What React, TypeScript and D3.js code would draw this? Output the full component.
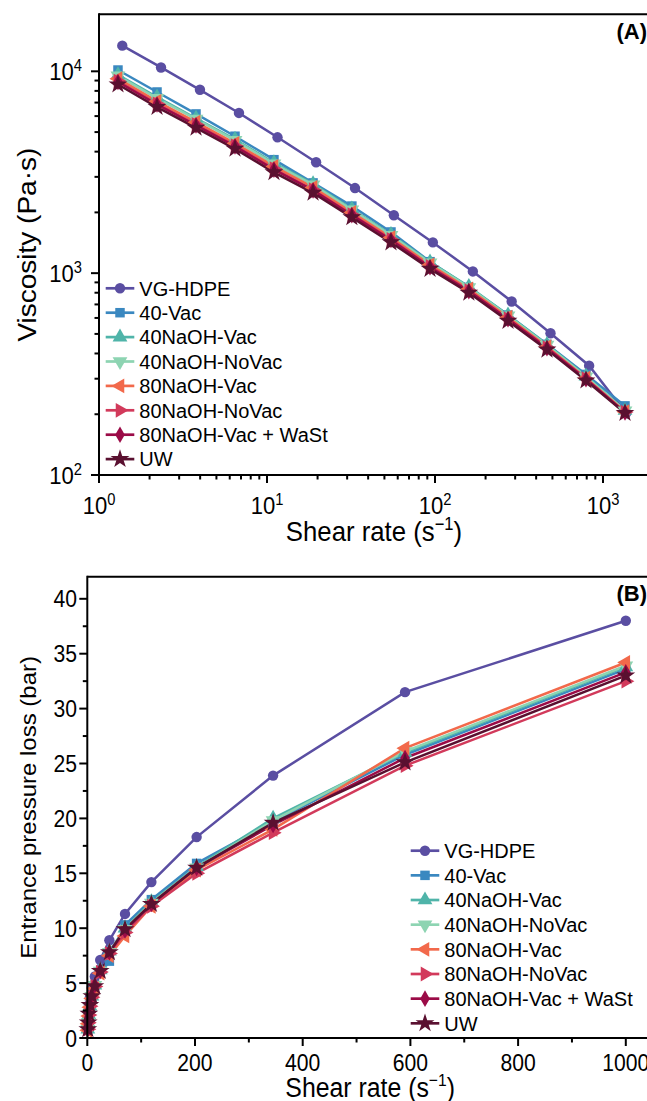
import React from 'react';
import * as d3 from 'd3';

const seriesNames = ['VG-HDPE', '40-Vac', '40NaOH-Vac', '40NaOH-NoVac', '80NaOH-Vac', '80NaOH-NoVac', '80NaOH-Vac + WaSt', 'UW'];
const seriesColors = ['#5a4ea2', '#3a88c0', '#4fb4a9', '#8dd4b2', '#f2694b', '#d23a5b', '#9b0b47', '#5a1030'];
const seriesMarkers = ['circle', 'square', 'triangle', 'triangleDown', 'triangleLeft', 'triangleRight', 'diamond', 'star'];

// Panel A: viscosity vs shear rate (log-log)
const shearA_VG = [1.376, 2.34, 3.99, 6.81, 11.55, 19.6, 33.4, 56.9, 97.1, 168, 286, 487, 827, 1372];
const shearA = [1.297, 2.215, 3.78, 6.45, 11.0, 18.8, 32.0, 54.7, 93.4, 159, 272, 464, 792, 1352];
const viscVG = [13400, 10450, 8100, 6220, 4710, 3545, 2640, 1935, 1420, 1020, 724, 504, 348, 202];
const visc40Vac = [10150, 7900, 6150, 4770, 3650, 2800, 2150, 1600, 1140, 850, 620, 444, 315, 220];
const visc40NaOHVac = [9600, 7450, 5850, 4600, 3520, 2770, 2080, 1555, 1135, 858, 620, 443, 309, 209];
const visc40NaOHNoVac = [9500, 7350, 5800, 4550, 3480, 2740, 2060, 1540, 1125, 850, 615, 440, 307, 208];
const visc80NaOHVac = [9200, 7100, 5600, 4400, 3380, 2660, 2000, 1500, 1100, 835, 605, 432, 302, 206];
const visc80NaOHNoVac = [8950, 6900, 5450, 4280, 3290, 2590, 1950, 1470, 1080, 820, 595, 428, 300, 205];
const visc80NaOHVacWaSt = [8850, 6850, 5400, 4250, 3260, 2570, 1940, 1460, 1070, 815, 592, 425, 298, 204];
const viscUW = [8600, 6650, 5250, 4130, 3160, 2500, 1890, 1420, 1050, 800, 580, 418, 294, 203];

// Panel B: entrance pressure loss vs shear rate (linear)
const shearB = [1, 1.7, 2.9, 4.9, 8.4, 14, 24, 41, 70, 119, 203, 345, 590, 1000];
const pressVG = [1.9, 2.4, 3.0, 3.7, 4.6, 5.6, 7.1, 8.9, 11.3, 14.2, 18.3, 23.9, 31.5, 38.0];
const press40Vac = [0.9, 1.5, 2.2, 2.9, 3.7, 4.8, 5.9, 7.0, 10.3, 12.6, 15.9, 19.7, 25.8, 33.6];
const press40NaOHVac = [0.8, 1.4, 2.1, 2.9, 3.8, 4.8, 6.2, 7.9, 10.0, 12.4, 15.6, 20.0, 26.0, 33.8];
const press40NaOHNoVac = [0.8, 1.4, 2.1, 2.9, 3.8, 4.8, 6.1, 7.8, 9.9, 12.3, 15.5, 19.8, 26.1, 33.9];
const press80NaOHVac = [0.7, 1.3, 2.0, 2.8, 3.6, 4.5, 5.9, 7.5, 9.3, 12.0, 15.3, 19.0, 26.4, 34.2];
const press80NaOHNoVac = [0.8, 1.4, 2.1, 2.9, 3.7, 4.7, 6.0, 7.7, 9.6, 12.0, 15.0, 18.7, 24.8, 32.5];
const press80NaOHVacWaSt = [0.8, 1.4, 2.2, 3.0, 3.8, 4.8, 6.1, 7.8, 9.8, 12.2, 15.5, 19.4, 25.5, 33.3];
const pressUW = [0.8, 1.4, 2.2, 3.0, 3.8, 4.7, 6.1, 7.8, 9.9, 12.2, 15.5, 19.6, 25.1, 33.0];

const viscSeries = [viscVG, visc40Vac, visc40NaOHVac, visc40NaOHNoVac, visc80NaOHVac, visc80NaOHNoVac, visc80NaOHVacWaSt, viscUW];
const pressSeries = [pressVG, press40Vac, press40NaOHVac, press40NaOHNoVac, press80NaOHVac, press80NaOHNoVac, press80NaOHVacWaSt, pressUW];

const xTicksALog = [0, 1, 2, 3];
const yTicksALog = [2, 3, 4];
const xTicksB = [0, 200, 400, 600, 800, 1000];
const yTicksB = [0, 5, 10, 15, 20, 25, 30, 35, 40];

const FONT = "'Liberation Sans', Arial, Helvetica, sans-serif";
const SQ = 0.92; // horizontal condensation of axis text

function markerPath(kind: string): { d: string; rot: number } {
  const sym = (t: d3.SymbolType, s: number) => d3.symbol().type(t).size(s)() as string;
  switch (kind) {
    case 'circle': return { d: sym(d3.symbolCircle, 85), rot: 0 };
    case 'square': return { d: sym(d3.symbolSquare, 90), rot: 0 };
    case 'triangle': return { d: sym(d3.symbolTriangle, 95), rot: 0 };
    case 'triangleDown': return { d: sym(d3.symbolTriangle, 95), rot: 180 };
    case 'triangleLeft': return { d: sym(d3.symbolTriangle, 95), rot: -90 };
    case 'triangleRight': return { d: sym(d3.symbolTriangle, 95), rot: 90 };
    case 'diamond': return { d: sym(d3.symbolDiamond, 80), rot: 0 };
    default: return { d: sym(d3.symbolStar, 110), rot: 0 };
  }
}

function Marker({ x, y, i }: { x: number; y: number; i: number }) {
  const m = markerPath(seriesMarkers[i]);
  return <path d={m.d} transform={`translate(${x},${y}) rotate(${m.rot})`} fill={seriesColors[i]} />;
}

function Legend({ x0, y0, step }: { x0: number; y0: number; step: number }) {
  return (
    <g>
      {seriesNames.map((n, i) => {
        const y = y0 + i * step;
        return (
          <g key={n}>
            <line x1={x0} x2={x0 + 28.6} y1={y} y2={y} stroke={seriesColors[i]} strokeWidth={2.7} />
            <Marker x={x0 + 14.3} y={y} i={i} />
            <text x={x0 + 33.6} y={y} dy="0.36em" fontSize={20} fontFamily={FONT} fill="#000">{n}</text>
          </g>
        );
      })}
    </g>
  );
}

function CText({ x, y, anchor, size, children, rotate = 0 }: any) {
  const sc = rotate === 0 ? `scale(${SQ},1)` : `scale(1,${SQ})`;
  return (
    <g transform={`translate(${x},${y}) rotate(${rotate}) ${sc}`}>
      <text x={0} y={0} textAnchor={anchor} fontSize={size} fontFamily={FONT} fill="#000">{children}</text>
    </g>
  );
}

export default function App() {
  // Panel A scales
  const aLeft = 99, aTop = 14.3, aBottom = 475, aRight = 650;
  const xA = d3.scaleLog().domain([1, Math.pow(10, (aRight - aLeft) / 168)]).range([aLeft, aRight]);
  const yA = d3.scaleLog().domain([100, Math.pow(10, 4.2825)]).range([aBottom, aTop]);
  // Panel B scales
  const bLeft = 87.3, bTop = 576.7, bBottom = 1038, bRight = 650;
  const xB = d3.scaleLinear().domain([0, (bRight - bLeft) / 0.5385]).range([bLeft, bRight]);
  const yB = d3.scaleLinear().domain([0, 42]).range([bBottom, bBottom - 42 * 10.98]);

  const lineA = (xs: number[], ys: number[]) =>
    d3.line<number>().x((_, k) => xA(xs[k])).y((v) => yA(v))(ys) as string;
  const lineB = (ys: number[]) =>
    d3.line<number>().x((_, k) => xB(shearB[k])).y((v) => yB(v))(ys) as string;

  const logMinor = (lo: number, hi: number, dom: [number, number]) => {
    const out: { v: number; major: boolean }[] = [];
    for (let d = lo; d <= hi; d++) for (let m = 1; m <= 9; m++) {
      const v = m * Math.pow(10, d);
      if (v >= dom[0] - 1e-9 && v <= dom[1]) out.push({ v, major: m === 1 });
    }
    return out;
  };
  const xAticks = logMinor(0, 3, xA.domain() as [number, number]);
  const yAticks = logMinor(2, 4, yA.domain() as [number, number]);

  const xBminor = d3.range(0, 1001, 100);
  const yBminor = d3.range(0, 41, 2.5);

  return (
    <svg width={647} height={1101} style={{ position: 'absolute', left: 0, top: 0, background: '#fff' }}>
      <rect width={647} height={1101} fill="#fff" />
      {/* ===== Panel A ===== */}
      <g>
        {viscSeries.map((ys, i) => (
          <path key={'la' + i} d={lineA(i === 0 ? shearA_VG : shearA, ys)} fill="none" stroke={seriesColors[i]} strokeWidth={2.5} />
        ))}
        {viscSeries.map((ys, i) => (
          <g key={'ma' + i}>
            {ys.map((v, k) => <Marker key={k} x={xA((i === 0 ? shearA_VG : shearA)[k])} y={yA(v)} i={i} />)}
          </g>
        ))}
        {/* frame */}
        <line x1={aLeft} x2={aRight} y1={aTop} y2={aTop} stroke="#000" strokeWidth={2} />
        <line x1={aLeft} x2={aLeft} y1={aTop - 1} y2={aBottom + 1} stroke="#000" strokeWidth={2} />
        <line x1={aLeft - 1} x2={aRight} y1={aBottom} y2={aBottom} stroke="#000" strokeWidth={2} />
        {xAticks.map((t, k) => (
          <line key={'xat' + k} x1={xA(t.v)} x2={xA(t.v)} y1={aBottom} y2={aBottom + (t.major ? 8 : 4.5)} stroke="#000" strokeWidth={2} />
        ))}
        {yAticks.map((t, k) => (
          <line key={'yat' + k} x1={aLeft} x2={aLeft - (t.major ? 8 : 4.5)} y1={yA(t.v)} y2={yA(t.v)} stroke="#000" strokeWidth={2} />
        ))}
        {xTicksALog.map((e) => (
          <CText key={'xal' + e} x={xA(Math.pow(10, e))} y={514} anchor="middle" size={24}>
            10<tspan dy={-9} fontSize={16}>{e}</tspan>
          </CText>
        ))}
        {yTicksALog.map((e) => (
          <CText key={'yal' + e} x={82} y={yA(Math.pow(10, e)) + 8.5} anchor="end" size={24}>
            10<tspan dy={-9} fontSize={16}>{e}</tspan>
          </CText>
        ))}
        <CText x={(aLeft + 647) / 2 + 1} y={541} anchor="middle" size={28}>
          Shear rate (s<tspan dy={-11} fontSize={18}>−1</tspan><tspan dy={11}>)</tspan>
        </CText>
        <CText x={36} y={(aTop + aBottom) / 2} anchor="middle" size={28} rotate={-90}>
          Viscosity (Pa·s)
        </CText>
        <text x={647} y={39} textAnchor="end" fontSize={22} fontWeight="bold" fontFamily={FONT}>(A)</text>
        <Legend x0={105.7} y0={288.3} step={24.4} />
      </g>

      {/* ===== Panel B ===== */}
      <g>
        {pressSeries.map((ys, i) => (
          <path key={'lb' + i} d={lineB(ys)} fill="none" stroke={seriesColors[i]} strokeWidth={2.5} />
        ))}
        {pressSeries.map((ys, i) => (
          <g key={'mb' + i}>
            {ys.map((v, k) => <Marker key={k} x={xB(shearB[k])} y={yB(v)} i={i} />)}
          </g>
        ))}
        <line x1={bLeft} x2={bRight} y1={bTop} y2={bTop} stroke="#000" strokeWidth={2} />
        <line x1={bLeft} x2={bLeft} y1={bTop - 1} y2={bBottom + 1} stroke="#000" strokeWidth={2} />
        <line x1={bLeft - 1} x2={bRight} y1={bBottom} y2={bBottom} stroke="#000" strokeWidth={2} />
        {xBminor.map((v) => (
          <line key={'xbt' + v} x1={xB(v)} x2={xB(v)} y1={bBottom} y2={bBottom + (v % 200 === 0 ? 8 : 4.5)} stroke="#000" strokeWidth={2} />
        ))}
        {yBminor.map((v) => (
          <line key={'ybt' + v} x1={bLeft} x2={bLeft - (v % 5 === 0 ? 8 : 4.5)} y1={yB(v)} y2={yB(v)} stroke="#000" strokeWidth={2} />
        ))}
        {xTicksB.map((v) => (
          <CText key={'xbl' + v} x={xB(v)} y={1071} anchor="middle" size={23}>{v}</CText>
        ))}
        {yTicksB.map((v) => (
          <CText key={'ybl' + v} x={77} y={yB(v) + 8.5} anchor="end" size={23}>{v}</CText>
        ))}
        <CText x={(bLeft + 647) / 2 + 3} y={1097} anchor="middle" size={27}>
          Shear rate (s<tspan dy={-11} fontSize={17}>−1</tspan><tspan dy={11}>)</tspan>
        </CText>
        <CText x={36} y={(bTop + bBottom) / 2} anchor="middle" size={24} rotate={-90}>
          Entrance pressure loss (bar)
        </CText>
        <text x={647} y={601} textAnchor="end" fontSize={22} fontWeight="bold" fontFamily={FONT}>(B)</text>
        <Legend x0={410.7} y0={850.7} step={24.66} />
      </g>
    </svg>
  );
}
